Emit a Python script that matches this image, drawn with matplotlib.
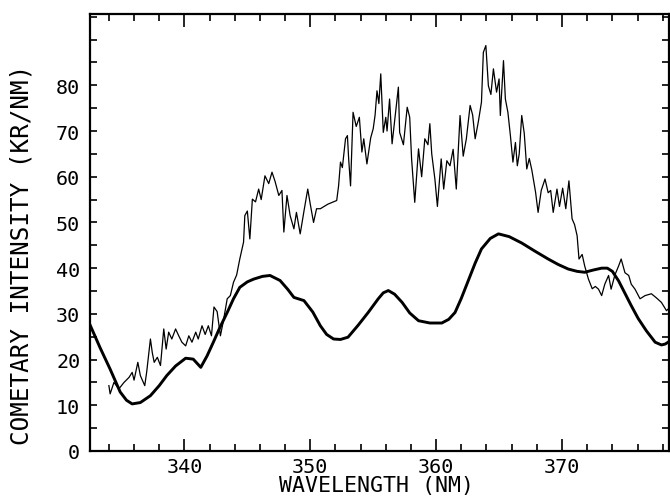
import numpy as np
import matplotlib
matplotlib.use("Agg")
import matplotlib.pyplot as plt

plt.rcParams['font.family'] = ['DejaVu Sans Mono', 'DejaVu Sans']

# observed cometary spectrum (noisy trace), wavelength nm / intensity kR/nm
obs_wl = [
    334.0, 334.1, 334.4, 334.8, 335.2, 335.6, 335.85, 336.0, 336.3, 336.5,
    336.85, 337.0, 337.3, 337.45, 337.6, 337.85, 338.1, 338.36, 338.55, 338.75,
    339.0, 339.3, 339.55, 339.8, 340.1, 340.35, 340.6, 340.9, 341.1, 341.4,
    341.65, 341.9, 342.15, 342.35, 342.6, 342.86, 343.1, 343.4, 343.65, 343.9,
    344.15, 344.4, 344.7, 344.8, 345.0, 345.2, 345.4, 345.65, 345.9, 346.1,
    346.4, 346.7, 346.96, 347.2, 347.5, 347.75, 347.9, 348.15, 348.4, 348.7,
    348.9, 349.2, 349.5, 349.8, 350.0, 350.26, 350.5, 350.8, 351.1, 351.4,
    351.85, 352.1, 352.25, 352.4, 352.55, 352.8, 352.95, 353.05, 353.2, 353.3,
    353.4, 353.65, 353.9, 354.1, 354.25, 354.5, 354.8, 355.0, 355.15, 355.3,
    355.45, 355.6, 355.8, 356.0, 356.1, 356.3, 356.5, 356.75, 357.0, 357.1,
    357.4, 357.7, 357.9, 358.05, 358.3, 358.6, 358.85, 359.1, 359.35, 359.5,
    359.65, 359.9, 360.1, 360.4, 360.6, 360.85, 361.1, 361.35, 361.6, 361.9,
    362.15, 362.4, 362.7, 362.9, 363.1, 363.35, 363.6, 363.75, 363.95, 364.15,
    364.35, 364.55, 364.8, 365.0, 365.1, 365.35, 365.5, 365.7, 365.9, 366.1,
    366.3, 366.45, 366.6, 366.8, 367.0, 367.2, 367.4, 367.6, 367.9, 368.1,
    368.35, 368.65, 368.9, 369.1, 369.3, 369.6, 369.8, 370.05, 370.3, 370.55,
    370.8, 371.0, 371.2, 371.35, 371.6, 371.8, 372.1, 372.4, 372.65, 372.9,
    373.15, 373.4, 373.7, 373.9, 374.2, 374.5, 374.7, 375.0, 375.3, 375.5,
    375.8, 376.2, 376.6, 377.1, 377.5, 377.9, 378.3, 378.6,
]
obs_int = [
    14.3, 12.5, 15.0, 13.6, 15.0, 16.1, 17.2, 15.5, 19.4, 16.5,
    14.3, 17.2, 24.5, 21.5, 19.4, 20.5, 18.7, 26.7, 22.3, 26.0,
    24.5, 26.7, 25.2, 23.8, 23.0, 25.2, 23.8, 26.0, 24.5, 27.4,
    25.5, 27.4, 25.2, 31.5, 30.5, 25.2, 28.5, 33.3, 34.0, 36.9,
    38.5, 42.0, 45.7, 51.5, 52.5, 46.4, 55.1, 54.5, 57.3, 55.0,
    60.2, 58.5, 61.0, 59.0, 55.9, 57.0, 47.9, 55.9, 51.5, 48.6,
    52.2, 47.5, 52.5, 57.3, 54.0, 50.0, 53.0, 53.0, 53.5, 54.0,
    54.5, 54.8, 58.0, 63.2, 62.0, 68.3, 69.0, 63.9, 58.0, 66.1,
    74.1, 71.0, 73.0, 65.4, 68.3, 62.8, 68.5, 70.5, 73.5, 78.8,
    76.0, 82.5, 69.7, 73.0, 70.0, 77.0, 67.2, 73.5, 79.6, 69.7,
    67.0, 75.2, 73.0, 63.9, 54.4, 66.1, 60.0, 68.3, 67.0, 71.6,
    65.0, 59.5, 53.5, 63.9, 57.3, 63.5, 62.4, 66.0, 57.3, 73.4,
    64.5, 68.3, 75.6, 73.5, 68.3, 72.0, 76.3, 87.2, 88.7, 79.9,
    78.0, 83.6, 78.5, 81.4, 73.4, 85.4, 77.0, 74.1, 69.0, 63.2,
    67.5, 62.4, 65.0, 73.4, 69.5, 61.7, 64.0, 61.5, 56.6, 52.2,
    57.0, 59.5, 56.5, 57.0, 52.2, 57.3, 53.5, 57.5, 53.0, 59.1,
    50.8, 49.5, 47.1, 42.0, 43.0, 40.5, 37.6, 35.5, 36.0, 35.4,
    34.0, 36.5, 38.4, 35.4, 38.5, 40.5, 42.0, 39.0, 38.4, 36.5,
    35.4, 33.3, 34.0, 34.4, 33.5, 32.5, 30.7, 31.5,
]

# model spectrum (thick smooth curve)
mod_wl = [
    332.5, 333.3, 334.1, 334.9, 335.4, 335.85, 336.5, 337.3, 338.0, 338.6,
    339.3, 340.1, 340.7, 341.3, 341.8, 342.3, 342.8, 343.4, 343.9, 344.4,
    345.0, 345.5, 346.2, 346.8, 347.6, 348.2, 348.7, 349.5, 350.2, 350.8,
    351.3, 351.85, 352.4, 353.0, 353.8, 354.6, 355.4, 355.8, 356.2, 356.7,
    357.3, 357.9, 358.6, 359.5, 360.45, 361.0, 361.5, 362.0, 362.6, 363.1,
    363.6, 364.3, 364.95, 365.8, 366.8, 367.8, 368.9, 369.7, 370.5, 371.2,
    371.8, 372.5, 373.15, 373.6, 374.0, 374.5, 375.0, 375.5, 376.05, 376.7,
    377.4, 377.9, 378.2, 378.6,
]
mod_int = [
    27.6, 22.6, 17.9, 12.9, 11.1, 10.3, 10.6, 12.1, 14.3, 16.5,
    18.6, 20.3, 20.1, 18.3, 20.8, 23.8, 26.9, 30.3, 33.3, 35.8,
    37.0, 37.6, 38.2, 38.4, 37.3, 35.4, 33.6, 32.9, 30.4, 27.4,
    25.5, 24.5, 24.4, 24.9, 27.5, 30.3, 33.3, 34.6, 35.1, 34.3,
    32.5, 30.2, 28.5, 28.0, 28.0, 28.8, 30.3, 33.4, 37.6, 41.1,
    44.2, 46.5, 47.5, 46.9, 45.5, 43.8, 42.0, 40.8, 39.8, 39.3,
    39.1, 39.6, 40.0, 40.0, 39.3, 37.2, 34.5, 31.8, 29.0, 26.3,
    23.8, 23.2, 23.4, 24.1,
]

fig = plt.figure(figsize=(6.7, 5.02), dpi=100)
ax = fig.add_axes([90 / 670, 50 / 502, 579 / 670, 437 / 502])

ax.plot(obs_wl, obs_int, color='black', lw=0.9)
ax.plot(mod_wl, mod_int, color='black', lw=2.1, solid_joinstyle='round')

ax.set_xlim(332.5, 378.5)
ax.set_ylim(0, 95.6)

ax.set_xticks([340, 350, 360, 370])
ax.set_xticks(np.arange(334, 379, 2), minor=True)
ax.set_yticks(np.arange(0, 81, 10))
ax.set_yticks(np.arange(5, 96, 5), minor=True)

for s in ax.spines.values():
    s.set_linewidth(1.6)

ax.tick_params(which='both', direction='in', top=True, right=True,
               width=1.2, labelsize=14.5)
ax.tick_params(axis='x', which='major', length=9, pad=4)
ax.tick_params(axis='x', which='minor', length=5)
ax.tick_params(axis='y', which='major', length=5, pad=7)
ax.tick_params(axis='y', which='minor', length=5)

ax.set_xlabel('WAVELENGTH (NM)', fontsize=15.5)
ax.set_ylabel('COMETARY INTENSITY (KR/NM)', fontsize=17.5)
ax.xaxis.set_label_coords(0.494, -0.054)
ax.yaxis.set_label_coords(-0.098, 0.451)

fig.savefig('out.png', dpi=100)
